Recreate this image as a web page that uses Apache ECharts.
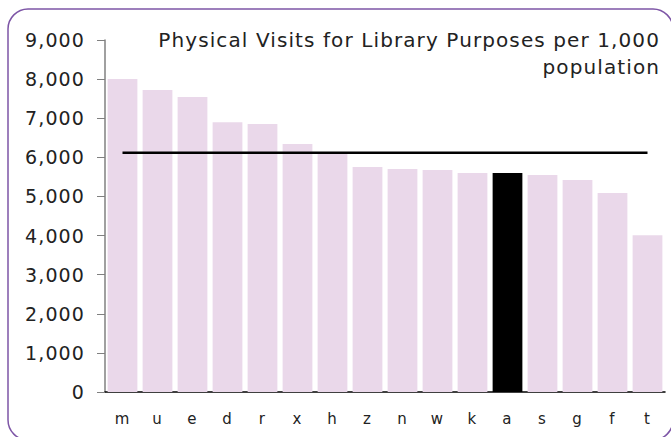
<!DOCTYPE html>
<html>
<head>
<meta charset="utf-8">
<script src="https://cdn.jsdelivr.net/npm/echarts@6/dist/echarts.min.js"></script>
<style>
html,body{margin:0;padding:0;background:#fff;}
#chart{width:671px;height:437px;letter-spacing:1.1px;}
</style>
</head>
<body>
<div id="chart"></div>
<script>
var categories = ['m','u','e','d','r','x','h','z','n','w','k','a','s','g','f','t'];
var visits = [8000, 7720, 7540, 6900, 6850, 6340, 6090, 5750, 5700, 5675, 5600, 5600, 5550, 5420, 5090, 4010];
var averageLine = [6120, 6120, 6120, 6120, 6120, 6120, 6120, 6120, 6120, 6120, 6120, 6120, 6120, 6120, 6120, 6120];
var highlighted = 'a';
var yTicks = [0, 1000, 2000, 3000, 4000, 5000, 6000, 7000, 8000, 9000];
var titleText = 'Physical Visits for Library Purposes per 1,000\npopulation';

var FONT = 'DejaVu Sans';
var chart = echarts.init(document.getElementById('chart'), null, {renderer: 'svg'});

var barData = categories.map(function (c, i) {
  return {
    value: visits[i],
    itemStyle: {color: c === highlighted ? '#000000' : '#ead8ea'}
  };
});

chart.setOption({
  animation: false,
  backgroundColor: '#ffffff',
  graphic: [{
    type: 'rect',
    shape: {x: 8, y: 9, width: 665, height: 431, r: 20},
    style: {fill: 'none', stroke: '#7d55a6', lineWidth: 1.5},
    z: 100
  }, {
    type: 'text',
    x: 660, y: 26,
    style: {
      text: titleText,
      align: 'right', verticalAlign: 'top',
      font: 'normal 20px "DejaVu Sans"',
      fill: '#222222',
      lineHeight: 27
    },
    z: 100
  }],
  grid: {left: 105, right: 6, top: 40, bottom: 45, containLabel: false},
  xAxis: {
    type: 'category',
    data: categories,
    boundaryGap: true,
    axisLine: {show: true, lineStyle: {color: '#000000', width: 1.5}},
    axisTick: {show: false},
    axisLabel: {
      fontFamily: FONT, fontSize: 15, color: '#222222', margin: 19
    },
    splitLine: {show: false}
  },
  yAxis: {
    type: 'value',
    min: yTicks[0],
    max: yTicks[yTicks.length - 1],
    interval: 1000,
    axisLine: {show: true, lineStyle: {color: '#808080', width: 1.5}},
    axisTick: {show: true, inside: false, length: 8, lineStyle: {color: '#808080', width: 1}},
    axisLabel: {
      fontFamily: FONT, fontSize: 19, color: '#222222', margin: 20,
      formatter: function (v) { return v.toLocaleString('en-US'); }
    },
    splitLine: {show: false}
  },
  series: [
    {
      type: 'bar',
      data: barData,
      barCategoryGap: '15%',
      z: 2
    },
    {
      type: 'line',
      data: averageLine,
      showSymbol: false,
      symbol: 'none',
      lineStyle: {color: '#000000', width: 2.5},
      z: 3
    }
  ]
});
</script>
</body>
</html>
